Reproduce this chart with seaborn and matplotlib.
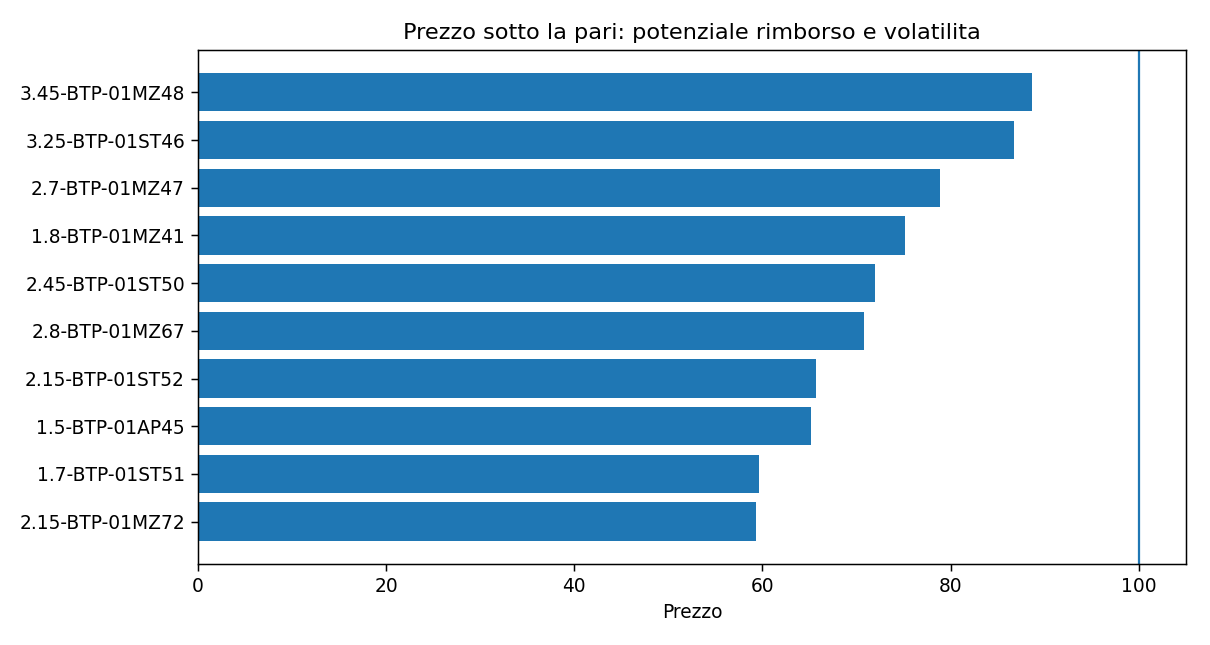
import matplotlib
matplotlib.use("Agg")
import matplotlib.pyplot as plt
import pandas as pd
import seaborn as sns

# Titoli e prezzi
titoli = [
    "3.45-BTP-01MZ48",
    "3.25-BTP-01ST46",
    "2.7-BTP-01MZ47",
    "1.8-BTP-01MZ41",
    "2.45-BTP-01ST50",
    "2.8-BTP-01MZ67",
    "2.15-BTP-01ST52",
    "1.5-BTP-01AP45",
    "1.7-BTP-01ST51",
    "2.15-BTP-01MZ72",
]
prezzi = [88.63, 86.72, 78.86, 75.14, 72.0, 70.8, 65.69, 65.12, 59.63, 59.28]
pari = 100

df = pd.DataFrame({"Titolo": titoli, "Prezzo": prezzi})

DPI = 134
fig, ax = plt.subplots(figsize=(1210 / DPI, 645 / DPI), dpi=DPI)
sns.barplot(data=df, x="Prezzo", y="Titolo", orient="h", color="#1f77b4",
            saturation=1, width=0.8, ax=ax)
ax.axvline(pari, color="#1f77b4", linewidth=1.2)
ax.set_xlim(0, 105)
# margini come barh di matplotlib
n = len(titoli)
ax.set_ylim(n - 0.6 + 0.49, -0.4 - 0.49)
ax.set_ylabel("")
ax.set_xlabel("Prezzo")
ax.set_title("Prezzo sotto la pari: potenziale rimborso e volatilita")
plt.subplots_adjust(left=0.1636, right=0.980, top=0.9225, bottom=0.1256)
plt.savefig("out.png", dpi=DPI)
plt.close()
